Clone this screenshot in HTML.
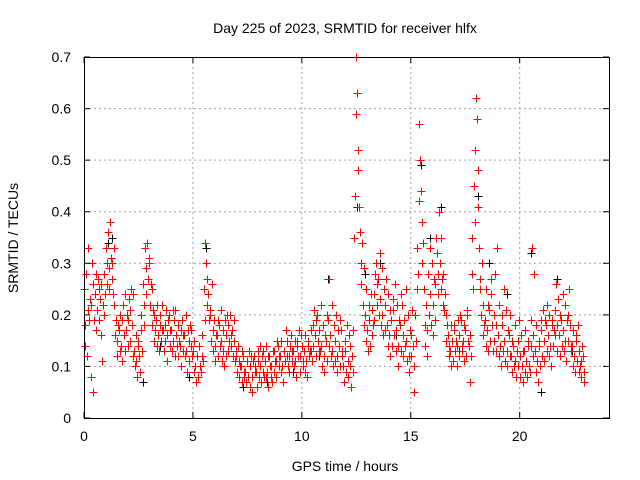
<!DOCTYPE html>
<html><head><meta charset="utf-8"><style>
html,body{margin:0;padding:0;background:#fff;}
svg{display:block;font-family:"Liberation Sans",sans-serif;}
</style></head><body>
<svg id="chart" width="640" height="480">
<rect width="640" height="480" fill="#fff"/>
<text x="345" y="33" font-size="14" text-anchor="middle">Day 225 of 2023, SRMTID for receiver hlfx</text>
<text x="345" y="471" font-size="14" text-anchor="middle">GPS time / hours</text>
<text x="18" y="238" font-size="14" text-anchor="middle" transform="rotate(-90 18 238)">SRMTID / TECUs</text>
<g id="grid"></g>
<g id="marks"></g>
<g id="axes"></g>
</svg>
<script>
const xTicks = [0, 5, 10, 15, 20];
const yTicks = [0, 0.1, 0.2, 0.3, 0.4, 0.5, 0.6, 0.7];
const yTickLabels = ["0", "0.1", "0.2", "0.3", "0.4", "0.5", "0.6", "0.7"];
const times = [];
for (let i = 0; i < 230; i++) times.push(+(i * 0.1).toFixed(1));
const redValues = [
[.25,.14,.18],[.28,.12,.21],[.33,.19,.23],[.22,.08,.30],[.26,.05,.19],[.24,.17,.28],[.21,.27,.25],[.19,.23,.16],[.26,.11,.22],[.28,.20,.24],
[.33,.26,.30],[.36,.29,.25],[.38,.31,.27],[.30,.24,.33],[.22,.16,.19],[.15,.12,.18],[.17,.13,.20],[.14,.19,.11],[.22,.16,.13],[.24,.17,.20],
[.19,.14,.23],[.21,.15,.25],[.18,.12,.24],[.13,.10,.16],[.11,.08,.14],[.15,.12,.09],[.20,.17,.13],[.26,.22,.18],[.33,.29,.24],[.34,.27,.31],
[.30,.22,.26],[.25,.18,.21],[.20,.15,.17],[.19,.14,.22],[.16,.13,.18],[.20,.15,.17],[.22,.17,.13],[.18,.15,.21],[.16,.11,.19],[.20,.14,.17],
[.17,.13,.21],[.15,.19,.12],[.21,.16,.14],[.18,.12,.15],[.14,.10,.17],[.19,.13,.16],[.16,.12,.20],[.13,.09,.17],[.15,.11,.18],[.17,.14,.12],
[.13,.09,.15],[.10,.07,.12],[.12,.08,.14],[.14,.10,.09],[.16,.12,.11],[.25,.19,.34],[.30,.22,.27],[.24,.19,.21],[.20,.15,.26],[.17,.13,.19],
[.14,.11,.16],[.16,.12,.19],[.18,.14,.21],[.15,.11,.17],[.13,.10,.19],[.16,.12,.20],[.18,.13,.15],[.20,.16,.14],[.17,.12,.19],[.15,.11,.13],
[.12,.09,.14],[.11,.08,.10],[.10,.07,.13],[.12,.09,.08],[.09,.07,.11],[.11,.08,.13],[.10,.06,.12],[.08,.05,.11],[.12,.09,.10],[.09,.06,.13],
[.11,.08,.14],[.10,.07,.12],[.13,.09,.08],[.11,.08,.14],[.09,.06,.12],[.12,.10,.08],[.10,.07,.13],[.13,.09,.11],[.11,.08,.15],[.14,.10,.12],
[.12,.09,.15],[.10,.07,.13],[.13,.11,.17],[.15,.12,.10],[.12,.09,.14],[.16,.13,.11],[.13,.10,.15],[.11,.08,.14],[.15,.12,.17],[.12,.09,.16],
[.14,.11,.10],[.13,.09,.16],[.11,.08,.14],[.15,.12,.13],[.17,.13,.11],[.18,.14,.21],[.16,.12,.19],[.20,.15,.13],[.17,.13,.22],[.14,.10,.18],
[.12,.09,.16],[.15,.11,.20],[.19,.14,.27],[.16,.12,.22],[.13,.10,.18],[.15,.11,.20],[.12,.09,.17],[.14,.10,.19],[.17,.12,.13],[.10,.07,.15],
[.13,.09,.18],[.11,.08,.16],[.14,.10,.06],[.12,.09,.17],[.35,.43,.59],[.70,.63,.52],[.48,.41,.36],[.30,.26,.34],[.22,.18,.29],[.20,.15,.25],
[.17,.13,.22],[.19,.14,.24],[.21,.16,.18],[.24,.19,.28],[.30,.22,.26],[.27,.20,.32],[.23,.18,.29],[.20,.16,.25],[.22,.17,.27],[.18,.14,.24],
[.16,.12,.21],[.19,.14,.23],[.21,.16,.26],[.17,.13,.22],[.14,.10,.19],[.18,.13,.24],[.22,.16,.12],[.19,.14,.25],[.15,.11,.20],[.12,.09,.17],
[.16,.12,.21],[.14,.10,.05],[.20,.15,.25],[.33,.28,.42],[.57,.50,.44],[.38,.30,.34],[.25,.18,.14],[.22,.17,.12],[.28,.20,.33],[.24,.18,.30],
[.22,.16,.27],[.26,.19,.35],[.32,.24,.28],[.40,.30,.25],[.35,.27,.22],[.28,.21,.24],[.20,.15,.18],[.16,.12,.14],[.13,.10,.18],[.15,.11,.17],
[.18,.13,.15],[.14,.10,.19],[.16,.12,.20],[.19,.14,.13],[.15,.11,.18],[.17,.12,.21],[.20,.15,.14],[.16,.07,.12],[.28,.35,.25],[.45,.52,.38],
[.62,.58,.41],[.48,.33,.27],[.25,.20,.30],[.22,.16,.18],[.19,.14,.25],[.17,.13,.22],[.21,.15,.27],[.24,.18,.13],[.20,.15,.28],[.18,.13,.33],
[.16,.12,.22],[.14,.10,.20],[.18,.13,.25],[.15,.11,.21],[.13,.10,.17],[.16,.12,.20],[.12,.09,.15],[.14,.10,.18],[.11,.08,.13],[.15,.10,.19],
[.12,.08,.16],[.10,.07,.13],[.13,.09,.17],[.11,.08,.15],[.14,.10,.09],[.19,.14,.33],[.16,.12,.28],[.13,.09,.18],[.11,.07,.15],[.14,.10,.19],
[.17,.12,.21],[.15,.11,.19],[.18,.13,.22],[.16,.12,.20],[.14,.10,.18],[.19,.14,.17],[.21,.16,.26],[.18,.13,.23],[.16,.12,.20],[.19,.14,.24],
[.17,.13,.22],[.15,.11,.19],[.20,.15,.25],[.18,.13,.14],[.14,.10,.17],[.12,.09,.16],[.15,.11,.18],[.13,.09,.10],[.11,.08,.14],[.12,.09,.07]
];
const blackTimes = [0.4,1.1,1.3,2.7,3.5,4.8,5.6,7.3,8.4,9.6,10.8,11.2,12.55,12.9,13.6,14.3,15.45,15.9,16.4,17.2,18.1,18.6,19.4,20.5,21.0,21.7,22.4];
const blackValues = [0.05,0.34,0.35,0.07,0.14,0.08,0.33,0.06,0.07,0.09,0.12,0.27,0.41,0.28,0.30,0.16,0.49,0.35,0.41,0.13,0.43,0.30,0.24,0.32,0.05,0.27,0.13];

const L = 84, R = 609, T = 57, B = 418;
const xMax = 24.1, yMax = 0.7;
const xs = v => L + v / xMax * (R - L);
const ys = v => B - v / yMax * (B - T);
const NS = "http://www.w3.org/2000/svg";
function mk(tag, attrs, parent) {
  const e = document.createElementNS(NS, tag);
  for (const k in attrs) e.setAttribute(k, attrs[k]);
  parent.appendChild(e);
  return e;
}
const grid = document.getElementById('grid');
const axes = document.getElementById('axes');
const marks = document.getElementById('marks');
xTicks.forEach(t => {
  const x = xs(t);
  if (t > 0) {
    const g = mk('line', {x1:x, x2:x, y1:T, y2:B, stroke:'#a0a0a0', 'stroke-width':1, 'stroke-dasharray':'2,3'}, grid);
    
    
  }
  const tk = mk('path', {d:`M${x},${B}v-6M${x},${T}v6`, stroke:'#000', 'stroke-width':1}, axes);
  
  
  const lb = mk('text', {x:x, y:B + 23, 'font-size':14, 'text-anchor':'middle'}, axes);
  lb.textContent = t;
  
  
});
yTicks.forEach((t, i) => {
  const y = ys(t);
  if (t > 0 && t < yMax) {
    const g = mk('line', {x1:L, x2:R, y1:y, y2:y, stroke:'#a0a0a0', 'stroke-width':1, 'stroke-dasharray':'2,3'}, grid);
    
    
  }
  const tk = mk('path', {d:`M${L},${y}h6M${R},${y}h-6`, stroke:'#000', 'stroke-width':1}, axes);
  
  
  const lb = mk('text', {x:L - 13, y:y + 5, 'font-size':14, 'text-anchor':'end'}, axes);
  lb.textContent = yTickLabels[i];
  
  
});
const frame = mk('rect', {x:L + 0.5, y:T + 0.5, width:R - L, height:B - T, fill:'none', stroke:'#000', 'stroke-width':1}, axes);



function plus(t, v, color, name) {
  const x = Math.round(xs(t)) + 0.5, y = Math.round(ys(v)) + 0.5;
  const p = mk('path', {d:`M${x-4},${y}h8M${x},${y-4}v8`, stroke:color, 'stroke-width':1, fill:'none'}, marks);
  
  
}
blackTimes.forEach((t, i) => plus(t, blackValues[i], '#000', 'black-point'));
times.forEach((t, i) => {
  redValues[i].forEach((v, j) => plus(t + j * 0.033, v, '#ff0000', 'red-point'));
});
</script>
</body></html>
